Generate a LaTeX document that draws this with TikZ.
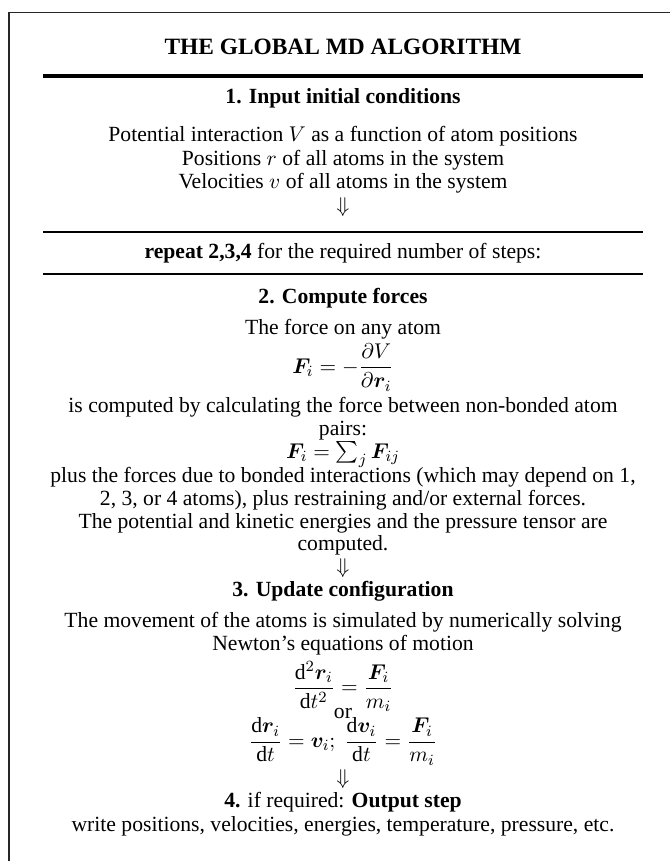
\documentclass[tikz,border=0pt]{standalone}
\usepackage{amsmath}
\usepackage{amssymb}
\usepackage{bm}
\usepackage{fontspec}
\setmainfont{Liberation Serif}
\usetikzlibrary{positioning}

\newcommand{\bodysize}{\fontsize{11.1}{13.6}\selectfont}

\begin{document}
\begin{tikzpicture}[x=0.513pt, y=-0.513pt,
    every node/.style={font=\bodysize},
    txt/.style={anchor=base, inner sep=0pt},
    head/.style={txt, font=\bodysize\bfseries},
    eqn/.style={inner sep=0pt},
    rule/.style={line width=0.8pt}]
  \useasboundingbox (0,0) rectangle (670,861);
  % frame, cut at right and bottom
  \draw[line width=0.6pt, black!85] (9,861) |- (670,12.5);

  % title and rules
  \node[txt, font=\large\bfseries] (title) at (343,55) {THE GLOBAL MD ALGORITHM};
  \draw[line width=2pt] (43,76) -- (643,76);
  \draw[rule] (43,232) -- (643,232);
  \draw[rule] (43,274) -- (643,274);

  % 1. input
  \node[head] (hinit) at (343,103.5) {1. Input initial conditions};
  \node[txt] (pot) at (343,141.5) {Potential interaction $V$ as a function of atom positions};
  \node[txt] (pos) at (343,165.5) {Positions $r$ of all atoms in the system};
  \node[txt] (vel) at (343,189) {Velocities $v$ of all atoms in the system};
  \node[eqn] (down1) at (343,207.5) {$\Downarrow$};

  \node[txt] (repeat) at (343,258.5) {\textbf{repeat 2,3,4} for the required number of steps:};

  % 2. forces
  \node[head] (hforce) at (343,303.5) {2. Compute forces};
  \node[txt] (fany) at (343,334) {The force on any atom};
  \node[eqn] (fgrad) at (343,367.5) {$\displaystyle \bm{F}_i = -\frac{\partial V}{\partial \bm{r}_i}$};
  \node[txt] (nonb) at (343,412) {is computed by calculating the force between non-bonded atom};
  \node[txt] (pairs) at (343,435) {pairs:};
  \node[txt] (fsum) at (343,458) {$\bm{F}_i = \sum_j \bm{F}_{ij}$};
  \node[txt] (bonded) at (343,482.5) {plus the forces due to bonded interactions (which may depend on 1,};
  \node[txt] (restr) at (343,505.5) {2, 3, or 4 atoms), plus restraining and/or external forces.};
  \node[txt] (energ) at (343,528.5) {The potential and kinetic energies and the pressure tensor are};
  \node[txt] (comp) at (343,550) {computed.};
  \node[eqn] (down2) at (343,568.5) {$\Downarrow$};

  % 3. update
  \node[head] (hupdate) at (343,596.5) {3. Update configuration};
  \node[txt] (move) at (343,627.5) {The movement of the atoms is simulated by numerically solving};
  \node[txt] (newton) at (343,650.5) {Newton’s equations of motion};
  \node[eqn] (eqsecond) at (343,686.5) {$\displaystyle \frac{\mathrm{d}^2\bm{r}_i}{\mathrm{d}t^2} = \frac{\bm{F}_i}{m_i}$};
  \node[txt] (or) at (343,718) {or};
  \node[eqn] (eqfirst) at (343,741.5) {$\displaystyle \frac{\mathrm{d}\bm{r}_i}{\mathrm{d}t} = \bm{v}_i;\ \frac{\mathrm{d}\bm{v}_i}{\mathrm{d}t} = \frac{\bm{F}_i}{m_i}$};
  \node[eqn] (down3) at (343,779) {$\Downarrow$};

  % 4. output
  \node[txt] (houtput) at (343,807.5) {\textbf{4.} if required: \textbf{Output step}};
  \node[txt] (write) at (343,831.5) {write positions, velocities, energies, temperature, pressure, etc.};
\end{tikzpicture}
\end{document}
